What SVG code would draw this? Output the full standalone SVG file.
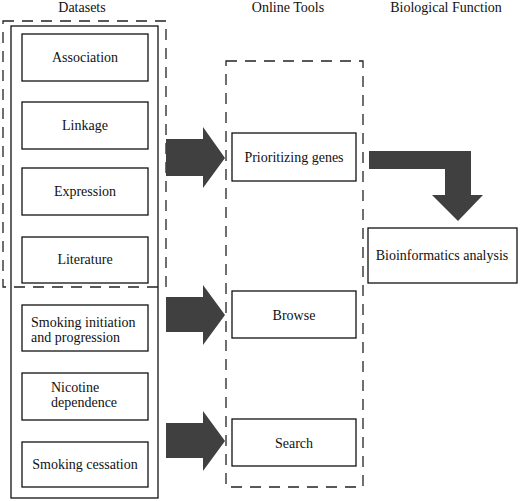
<svg xmlns="http://www.w3.org/2000/svg" width="520" height="501" viewBox="0 0 520 501">
<style>
text{font-family:"Liberation Serif","Times New Roman",serif;font-size:14px;fill:#111}
.c{text-anchor:middle}
.box{fill:#fff;stroke:#111;stroke-width:1.3}
.dash{fill:none;stroke:#222;stroke-width:1.3;stroke-dasharray:11 8}
.arr{fill:#404040;stroke:none}
</style>
<rect width="520" height="501" fill="#fff"/>
<g id="titles">
<text class="c" x="82" y="12">Datasets</text>
<text class="c" x="288" y="12">Online Tools</text>
<text class="c" x="446" y="12">Biological Function</text>
</g>
<g id="datasets-solid"><rect class="box" x="11" y="26" width="147" height="472"/></g>
<g id="datasets-dashed"><rect class="dash" x="3" y="21" width="163" height="266"/></g>
<g id="tools-dashed"><rect class="dash" x="226" y="61" width="137" height="426"/></g>
<g id="association"><rect class="box" x="22" y="34" width="126" height="47"/><text class="c" x="85" y="62">Association</text></g>
<g id="linkage"><rect class="box" x="22" y="102" width="126" height="47"/><text class="c" x="85" y="130">Linkage</text></g>
<g id="expression"><rect class="box" x="22" y="168" width="126" height="47"/><text class="c" x="85" y="196">Expression</text></g>
<g id="literature"><rect class="box" x="22" y="237" width="126" height="46"/><text class="c" x="85" y="264">Literature</text></g>
<g id="smoking-initiation"><rect class="box" x="22" y="305" width="126" height="46"/><text x="31" y="327">Smoking initiation</text><text x="31" y="342">and progression</text></g>
<g id="nicotine"><rect class="box" x="22" y="373" width="126" height="47"/><text x="51" y="392">Nicotine</text><text x="51" y="407">dependence</text></g>
<g id="cessation"><rect class="box" x="22" y="442" width="126" height="45"/><text class="c" x="85" y="469">Smoking cessation</text></g>
<g id="prioritizing"><rect class="box" x="232" y="133" width="124" height="48"/><text class="c" x="294" y="162">Prioritizing genes</text></g>
<g id="browse"><rect class="box" x="232" y="291" width="124" height="47"/><text class="c" x="294" y="320">Browse</text></g>
<g id="search"><rect class="box" x="232" y="419" width="124" height="47"/><text class="c" x="294" y="448">Search</text></g>
<g id="bioinformatics"><rect class="box" x="368" y="228" width="149" height="55"/><text class="c" x="442" y="260">Bioinformatics analysis</text></g>
<g id="connectors">
<path class="arr" d="M166,139 L203,139 L203,127 L225,158 L203,188 L203,176 L166,176 Z"/>
<path class="arr" d="M166,297 L203,297 L203,285 L225,315 L203,345 L203,332 L166,332 Z"/>
<path class="arr" d="M166,423 L203,423 L203,411 L225,441 L203,471 L203,458 L166,458 Z"/>
<path class="arr" d="M369,151 L471,151 L471,195 L483,195 L458,221 L432,195 L445,195 L445,169 L369,169 Z"/>
</g>
</svg>
